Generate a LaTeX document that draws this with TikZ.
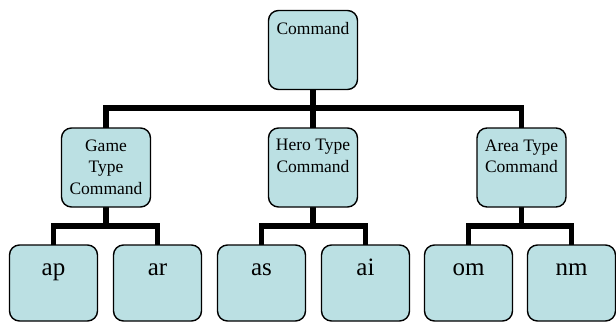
\documentclass[tikz,border=0pt]{standalone}
\usepackage{fontspec}
\setmainfont{Liberation Serif}
\definecolor{boxfill}{RGB}{187,224,227}
\begin{document}
\begin{tikzpicture}[x=1pt,y=-1pt,
  box/.style={draw=black, line width=1.4pt, fill=boxfill, rounded corners=10pt, inner sep=0pt},
  pbox/.style={box, minimum width=89pt, minimum height=79pt},
  cbox/.style={box, minimum width=88pt, minimum height=76pt},
  ptxt/.style={anchor=north, align=center, font=\fontsize{17.5}{21.5}\selectfont, inner sep=0pt},
  ctxt/.style={anchor=base, align=center, font=\fontsize{25}{28}\selectfont, inner sep=0pt},
  conn/.style={line width=5.5pt, line cap=rect, line join=miter}]
\useasboundingbox (0,0) rectangle (616,322);
% bus lines and box centres
\coordinate (bus0) at (0,108);
\coordinate (bus1) at (0,226);
\coordinate (pc) at (313,50);
\coordinate (pg) at (106,167.5);
\coordinate (ph) at (313,167.5);
\coordinate (pa) at (521.5,167.5);
\coordinate (cap) at (53.5,283);
\coordinate (car) at (157.5,283);
\coordinate (cas) at (261.5,283);
\coordinate (cai) at (365.5,283);
\coordinate (com) at (468.5,283);
\coordinate (cnm) at (571.5,283);
% connectors
\draw[conn] (pc) |- (pg |- bus0) -- (pg);
\draw[conn] (pc) -- (ph);
\draw[conn] (pc) |- (pa |- bus0) -- (pa);
\draw[conn] (pg) |- (cap |- bus1) -- (cap);
\draw[conn] (pg) |- (car |- bus1) -- (car);
\draw[conn] (ph) |- (cas |- bus1) -- (cas);
\draw[conn] (ph) |- (cai |- bus1) -- (cai);
\draw[conn] (pa) |- (com |- bus1) -- (com);
\draw[conn] (pa) |- (cnm |- bus1) -- (cnm);
% boxes
\node[pbox] (cmd) at (pc) {};
\node[pbox] (game) at (pg) {};
\node[pbox] (hero) at (ph) {};
\node[pbox] (area) at (pa) {};
\node[cbox] (ap) at (cap) {};
\node[cbox] (ar) at (car) {};
\node[cbox] (as) at (cas) {};
\node[cbox] (ai) at (cai) {};
\node[cbox] (om) at (com) {};
\node[cbox] (nm) at (cnm) {};
% texts
\node[ptxt] (tcmd) at ([yshift=-12pt]cmd.north) {Command};
\node[ptxt] (tgame) at ([yshift=-12pt]game.north) {Game\\Type\\Command};
\node[ptxt] (thero) at ([yshift=-12pt]hero.north) {Hero Type\\Command};
\node[ptxt] (tarea) at ([yshift=-12pt]area.north) {Area Type\\Command};
\node[ctxt] (tap) at ([yshift=-31pt]ap.north) {ap};
\node[ctxt] (tar) at ([yshift=-31pt]ar.north) {ar};
\node[ctxt] (tas) at ([yshift=-31pt]as.north) {as};
\node[ctxt] (tai) at ([yshift=-31pt]ai.north) {ai};
\node[ctxt] (tom) at ([yshift=-31pt]om.north) {om};
\node[ctxt] (tnm) at ([yshift=-31pt]nm.north) {nm};
\end{tikzpicture}
\end{document}
